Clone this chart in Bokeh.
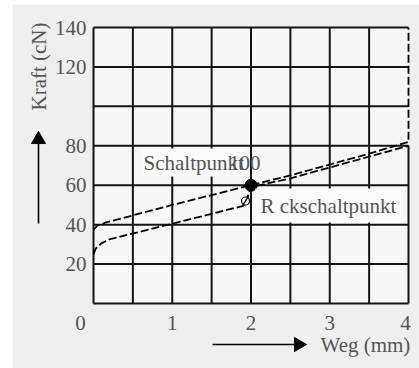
import math
from bokeh.plotting import figure
from bokeh.models import Range1d, Label
from bokeh.core.properties import value
from bokeh.embed import file_html
from bokeh.resources import INLINE

# ---- data -------------------------------------------------------------
x_ticks = [0, 1, 2, 3, 4]
x_tick_labels = ["0", "1", "2", "3", "4"]
y_ticks = [20, 40, 60, 80, 120, 140]
y_tick_labels = ["20", "40", "60", "80", "120", "140"]
x_grid = [0, 0.5, 1, 1.5, 2, 2.5, 3, 3.5]
y_grid = [0, 20, 40, 60, 80, 100, 120, 140]
x_min, x_max = 0, 4
y_min, y_max = 0, 140
border_top = 80

# Schaltkurve (upper, going up at x = 4)
upper_x = [0, 0.05, 0.15, 0.5, 1.0, 1.5, 2.0, 2.5, 3.0, 3.5, 4.0, 4.0]
upper_y = [37.5, 39.5, 41, 44.7, 50, 55, 60, 65, 70.5, 76, 82, 140]
# Rückschaltkurve (lower)
lower_x = [0, 0.03, 0.1, 0.2, 0.4, 0.7, 1.0, 1.5, 1.9, 1.93, 2.0, 2.5, 3.0, 3.5, 4.0]
lower_y = [25, 28, 30.5, 32.5, 34.5, 37.5, 40.5, 45.5, 49.5, 51, 59, 63.5, 69, 74.5, 80]

schalt_x, schalt_y = [2.0], [60]
rueck_x, rueck_y = [1.93], [52]

# ---- layout helpers (pixel -> data) -------------------------------------
W, H = 419, 368
X0, SX = 93, 78.75          # pixel of x=0, pixels per mm
Y0, SY = 303, 276 / 140     # pixel of y=0, pixels per cN


def dx(px):
    return (px - X0) / SX


def dy(py):
    return (Y0 - py) / SY


SERIF = "Liberation Serif"
FS = "21px"
GREY_TXT = "#555555"
LINE = "#151515"
BOX = "#fbfbfb"

p = figure(width=W, height=H, output_backend="svg", toolbar_location=None,
           x_range=Range1d(dx(0), dx(W)), y_range=Range1d(dy(H), dy(0)),
           x_axis_type=None, y_axis_type=None,
           min_border=0, min_border_left=0, min_border_right=0,
           min_border_top=0, min_border_bottom=0)
p.background_fill_color = "white"
p.border_fill_color = "white"
p.outline_line_color = None
p.grid.visible = False

# outer grey panel and plot area
p.quad(left=[dx(12)], right=[dx(W)], bottom=[dy(H)], top=[dy(4)],
       fill_color="#efefef", line_color=None)
p.quad(left=[x_min], right=[x_max], bottom=[y_min], top=[y_max],
       fill_color="#f7f7f7", line_color=None)

# grid
p.segment(x0=x_grid, y0=[y_min] * len(x_grid), x1=x_grid, y1=[y_max] * len(x_grid),
          line_color=LINE, line_width=2)
p.segment(x0=[x_min] * len(y_grid), y0=y_grid, x1=[x_max] * len(y_grid), y1=y_grid,
          line_color=LINE, line_width=2)
p.segment(x0=[x_max], y0=[y_min], x1=[x_max], y1=[border_top], line_color=LINE, line_width=2)

# tick labels
p.text(x=x_ticks, y=[y_min] * len(x_ticks), text=x_tick_labels,
       x_offset=[-13, 0, 0, 0, -3], y_offset=19,
       text_font=value(SERIF), text_font_size=FS, text_color=GREY_TXT,
       text_align="center", text_baseline="middle")
p.text(x=[x_min] * len(y_ticks), y=y_ticks, text=y_tick_labels, x_offset=-7,
       text_font=value(SERIF), text_font_size=FS, text_color=GREY_TXT,
       text_align="right", text_baseline="middle")

# annotation boxes (hide grid behind text)
p.add_layout(Label(x=dx(141), y=dy(162), text="Schaltpunkt", text_font=SERIF,
                   text_font_size=FS, text_color=GREY_TXT, text_baseline="middle",
                   text_align="left", background_fill_color=BOX, padding=2))
p.add_layout(Label(x=dx(260), y=dy(162), text="100", text_font=SERIF,
                   text_font_size=FS, text_color=GREY_TXT, text_baseline="middle",
                   text_align="right"))
p.add_layout(Label(x=dx(255), y=dy(205), text="R ckschaltpunkt", text_font=SERIF,
                   text_font_size=FS, text_color=GREY_TXT, text_baseline="middle",
                   text_align="left", background_fill_color=BOX, padding=5))

# curves
p.line(upper_x, upper_y, line_color="black", line_width=1.8, line_dash="8 3")
p.line(lower_x, lower_y, line_color="black", line_width=1.8, line_dash="8 3")

# markers
p.scatter(schalt_x, schalt_y, marker="circle", size=12, fill_color="black", line_color="black")
p.scatter(rueck_x, rueck_y, marker="circle", size=8, fill_color="#f7f7f7",
          line_color="black", line_width=1.2)
p.scatter(rueck_x, rueck_y, marker="dash", size=11, angle=1.0, line_color="black", line_width=1.2)

# axis titles + arrows
p.add_layout(Label(x=dx(38), y=dy(66), text="Kraft (cN)", angle=math.pi / 2, text_font=SERIF,
                   text_font_size=FS, text_color=GREY_TXT, text_align="center",
                   text_baseline="middle"))
p.segment(x0=[dx(38)], y0=[dy(223)], x1=[dx(38)], y1=[dy(142)], line_color="black", line_width=1.6)
p.scatter([dx(38)], [dy(139)], marker="triangle", size=14, fill_color="black", line_color="black")

p.add_layout(Label(x=dx(320), y=dy(344), text="Weg (mm)", text_font=SERIF,
                   text_font_size=FS, text_color=GREY_TXT, text_align="left",
                   text_baseline="middle"))
p.segment(x0=[dx(212)], y0=[dy(344)], x1=[dx(296)], y1=[dy(344)], line_color="black", line_width=1.6)
p.scatter([dx(298)], [dy(344)], marker="triangle", size=14, angle=-math.pi / 2,
          fill_color="black", line_color="black")

open("out.html", "w").write(file_html(p, INLINE))
